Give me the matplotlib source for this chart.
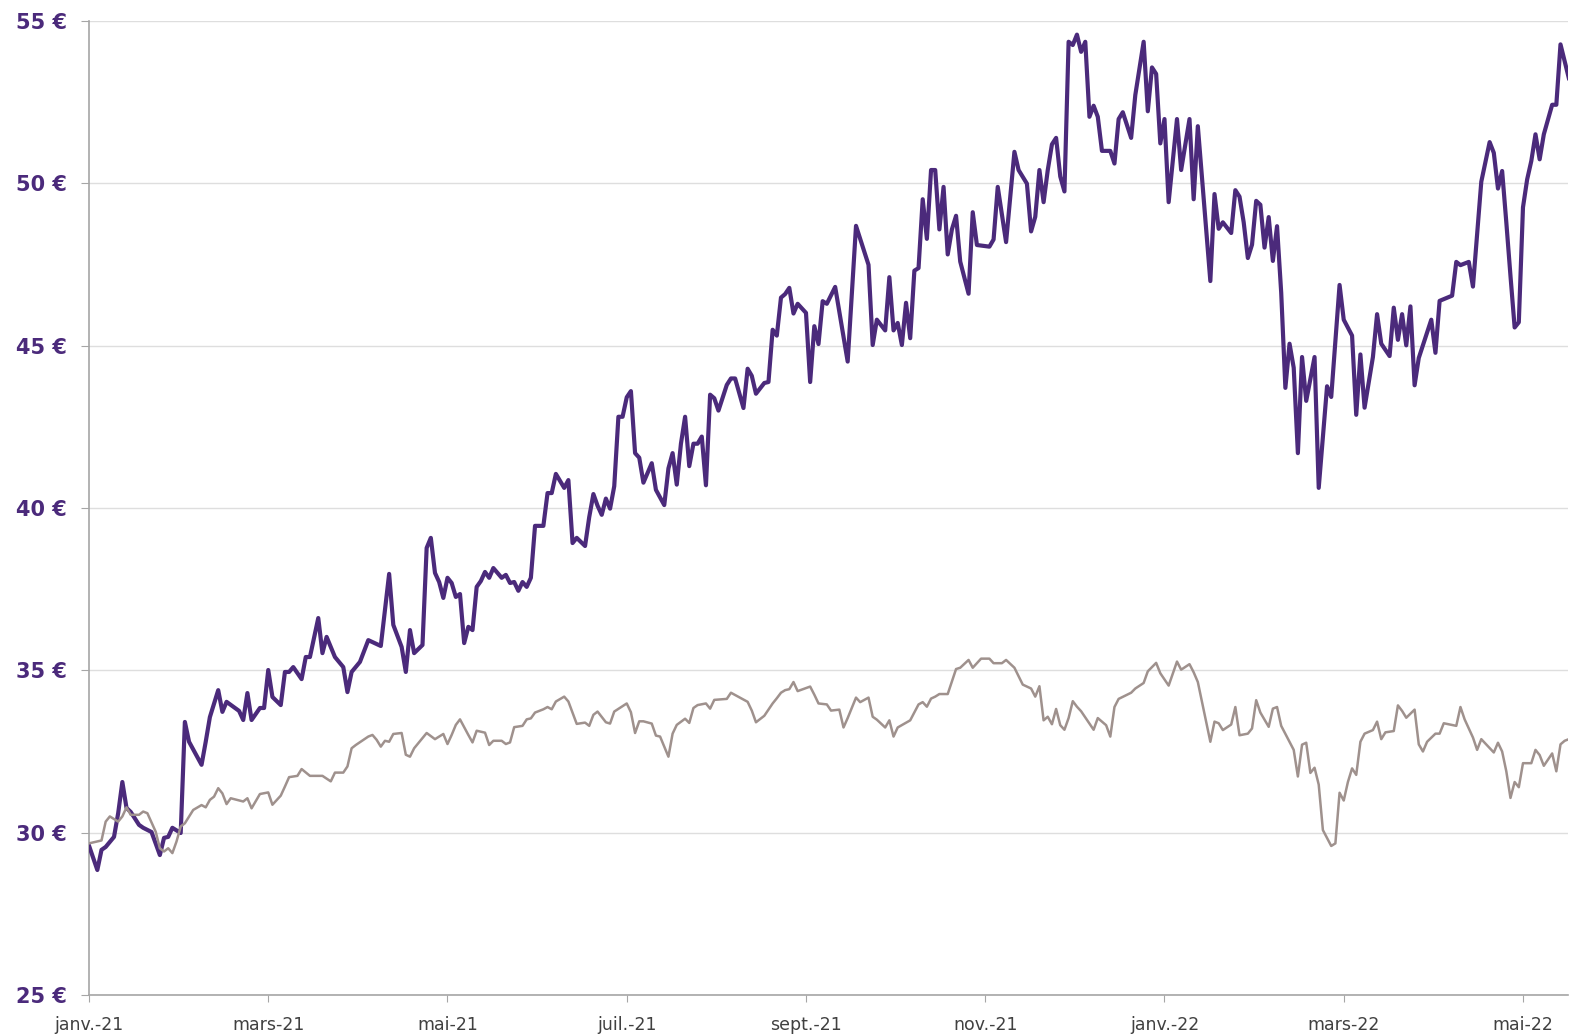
import matplotlib.pyplot as plt
import numpy as np

# abscisse : numero de seance depuis le 1er janvier 2021
# cours du titre (violet)
seance_titre = [
    0, 2, 3, 4, 6, 7, 8, 9, 10, 12,
    13, 15, 17, 18, 19, 20, 22, 23, 24, 27,
    28, 29, 31, 32, 33, 36, 37, 38, 39, 41,
    42, 43, 44, 46, 47, 48, 49, 51, 52, 53,
    55, 56, 57, 59, 61, 62, 63, 65, 67, 70,
    72, 73, 75, 76, 77, 78, 80, 81, 82, 83,
    84, 85, 86, 87, 88, 89, 90, 91, 92, 93,
    94, 95, 96, 97, 99, 100, 101, 102, 103, 104,
    105, 106, 107, 109, 110, 111, 112, 114, 115, 116,
    117, 119, 120, 121, 122, 123, 124, 125, 126, 127,
    128, 129, 130, 131, 132, 133, 135, 136, 138, 139,
    140, 141, 142, 143, 144, 145, 146, 147, 148, 149,
    150, 151, 153, 154, 155, 157, 158, 159, 160, 162,
    163, 164, 165, 166, 167, 168, 169, 170, 172, 173,
    174, 175, 176, 177, 179, 182, 184, 187, 188, 189,
    191, 192, 193, 194, 195, 196, 197, 198, 199, 200,
    201, 202, 203, 204, 205, 206, 207, 208, 209, 211,
    212, 213, 216, 217, 218, 220, 222, 223, 225, 226,
    227, 228, 229, 230, 231, 232, 233, 234, 235, 236,
    237, 238, 239, 240, 241, 242, 243, 245, 246, 247,
    248, 250, 251, 253, 254, 255, 256, 257, 258, 259,
    261, 262, 264, 265, 266, 267, 269, 270, 271, 272,
    274, 275, 276, 277, 278, 279, 280, 281, 282, 283,
    284, 285, 286, 287, 288, 289, 290, 291, 292, 294,
    295, 297, 298, 300, 301, 303, 304, 305, 306, 308,
    309, 310, 312, 313, 314, 315, 316, 317, 318, 319,
    322, 323, 324, 327, 328, 329, 331, 332, 334, 336,
    337, 338, 339, 340, 341, 342, 343, 344, 345, 346,
    347, 348, 349, 351, 352, 353, 355,
]
cours_titre = [
    29.6, 28.85, 29.47, 29.56, 29.87, 30.6, 31.56, 30.76, 30.64, 30.24,
    30.15, 30.02, 29.31, 29.84, 29.87, 30.15, 29.99, 33.41, 32.8, 32.09,
    32.8, 33.56, 34.39, 33.72, 34.03, 33.75, 33.47, 34.3, 33.47, 33.84,
    33.84, 35.01, 34.18, 33.93, 34.95, 34.95, 35.1, 34.73, 35.41, 35.41,
    36.61, 35.53, 36.03, 35.41, 35.1, 34.33, 34.95, 35.26, 35.93, 35.75,
    37.97, 36.4, 35.72, 34.95, 36.24, 35.53, 35.78, 38.77, 39.08, 38.0,
    37.72, 37.23, 37.85, 37.69, 37.26, 37.35, 35.84, 36.34, 36.24, 37.57,
    37.75, 38.03, 37.85, 38.15, 37.85, 37.94, 37.69, 37.72, 37.45, 37.72,
    37.57, 37.85, 39.45, 39.45, 40.46, 40.46, 41.05, 40.62, 40.86, 38.92,
    39.08, 38.83, 39.72, 40.43, 40.07, 39.79, 40.29, 39.98, 40.67, 42.81,
    42.81, 43.41, 43.6, 41.69, 41.55, 40.78, 41.38, 40.56, 40.09, 41.22,
    41.69, 40.72, 41.98, 42.81, 41.29, 41.98, 41.98, 42.2, 40.7, 43.49,
    43.38, 43.0, 43.79, 43.99, 43.99, 43.08, 44.29, 44.07, 43.52, 43.85,
    43.88, 45.49, 45.31, 46.48, 46.59, 46.78, 45.99, 46.29, 46.01, 43.88,
    45.6, 45.05, 46.37, 46.29, 46.81, 44.51, 48.69, 47.49, 45.02, 45.8,
    45.47, 47.11, 45.47, 45.7, 45.02, 46.32, 45.23, 47.31, 47.39, 49.51,
    48.29, 50.41, 50.41, 48.58, 49.89, 47.81, 48.58, 49.0, 47.59, 46.6,
    49.11, 48.1, 48.05, 48.27, 49.89, 48.19, 50.97, 50.41, 49.99, 48.52,
    48.97, 50.41, 49.42, 50.41, 51.2, 51.4, 50.21, 49.75, 54.36, 54.26,
    54.58, 54.05, 54.36, 52.05, 52.39, 52.05, 51.0, 51.0, 50.61, 51.98,
    52.19, 51.4, 52.72, 54.36, 52.22, 53.57, 53.37, 51.23, 51.98, 49.42,
    51.98, 50.41, 51.98, 49.51, 51.76, 50.16, 46.99, 49.67, 48.6, 48.8,
    48.47, 49.79, 49.59, 48.8, 47.7, 48.11, 49.46, 49.34, 48.02, 48.96,
    47.61, 48.68, 46.63, 43.7, 45.06, 44.32, 41.69, 44.65, 43.3, 44.65,
    40.62, 43.75, 43.42, 46.87, 45.8, 45.31, 42.87, 44.73, 43.09, 44.65,
    45.97, 45.06, 44.68, 46.17, 45.18, 45.97, 45.01, 46.21, 43.78, 44.62,
    45.8, 44.78, 46.38, 46.54, 47.58, 47.48, 47.58, 46.82, 50.05, 51.27,
    50.94, 49.84, 50.38, 48.8, 47.15, 45.56, 45.72, 49.26, 50.12, 50.69,
    51.51, 50.74, 51.51, 52.42, 52.42, 54.28, 53.24,
]

# indice de reference ramene en euros (gris)
seance_indice = [
    0, 3, 4, 5, 7, 8, 9, 10, 12, 13,
    14, 16, 17, 18, 19, 20, 21, 22, 23, 25,
    27, 28, 29, 30, 31, 32, 33, 34, 37, 38,
    39, 41, 43, 44, 46, 47, 48, 50, 51, 53,
    56, 58, 59, 61, 62, 63, 64, 67, 68, 69,
    70, 71, 72, 73, 75, 76, 77, 78, 80, 81,
    83, 85, 86, 87, 88, 89, 91, 92, 93, 94,
    95, 96, 97, 99, 100, 101, 102, 104, 105, 106,
    107, 109, 110, 111, 112, 114, 115, 117, 119, 120,
    121, 122, 124, 125, 126, 129, 130, 131, 132, 133,
    135, 136, 137, 139, 140, 141, 143, 144, 145, 146,
    148, 149, 150, 153, 154, 158, 159, 160, 162, 164,
    165, 166, 167, 168, 169, 170, 173, 174, 175, 177,
    178, 180, 181, 182, 184, 185, 187, 188, 189, 191,
    192, 193, 194, 197, 199, 200, 201, 202, 203, 204,
    206, 208, 209, 211, 212, 214, 216, 217, 219, 220,
    222, 224, 226, 227, 228, 229, 230, 231, 232, 233,
    234, 235, 236, 237, 238, 241, 242, 244, 245, 246,
    247, 250, 251, 253, 254, 256, 257, 259, 261, 262,
    264, 265, 266, 269, 270, 271, 272, 274, 275, 276,
    278, 279, 280, 281, 283, 284, 285, 286, 288, 289,
    290, 291, 292, 293, 294, 295, 296, 298, 299, 300,
    301, 302, 303, 304, 305, 306, 308, 309, 310, 311,
    313, 314, 315, 316, 318, 319, 320, 321, 323, 324,
    325, 328, 329, 330, 332, 333, 334, 337, 338, 339,
    340, 341, 342, 343, 344, 346, 347, 348, 349, 351,
    352, 353, 354, 355,
]
cours_indice = [
    29.67, 29.76, 30.34, 30.5, 30.34, 30.5, 30.78, 30.55, 30.55, 30.65,
    30.6, 30.03, 29.52, 29.42, 29.52, 29.37, 29.73, 30.19, 30.29, 30.7,
    30.85, 30.78, 31.01, 31.11, 31.37, 31.21, 30.88, 31.06, 30.96, 31.06,
    30.75, 31.19, 31.24, 30.86, 31.14, 31.42, 31.71, 31.75, 31.96, 31.75,
    31.75, 31.58, 31.85, 31.85, 32.04, 32.6, 32.7, 32.96, 33.01, 32.86,
    32.65, 32.83, 32.8, 33.04, 33.07, 32.4, 32.34, 32.6, 32.91, 33.07,
    32.88, 33.04, 32.73, 33.01, 33.32, 33.49, 33.01, 32.78, 33.14, 33.11,
    33.08, 32.7, 32.83, 32.83, 32.73, 32.78, 33.25, 33.29, 33.49, 33.52,
    33.7, 33.8, 33.87, 33.8, 34.04, 34.19, 34.04, 33.35, 33.39, 33.29,
    33.63, 33.73, 33.4, 33.36, 33.73, 33.98, 33.71, 33.07, 33.43, 33.43,
    33.36, 32.99, 32.96, 32.34, 33.05, 33.32, 33.51, 33.38, 33.84, 33.93,
    33.98, 33.82, 34.09, 34.12, 34.31, 34.03, 33.76, 33.4, 33.6, 33.98,
    34.14, 34.31, 34.39, 34.42, 34.64, 34.36, 34.5, 34.25, 33.98, 33.95,
    33.76, 33.79, 33.24, 33.53, 34.16, 34.02, 34.16, 33.57, 33.48, 33.24,
    33.46, 32.96, 33.24, 33.46, 33.95, 34.02, 33.88, 34.13, 34.19, 34.27,
    34.27, 35.04, 35.08, 35.32, 35.08, 35.36, 35.36, 35.22, 35.22, 35.32,
    35.08, 34.56, 34.44, 34.19, 34.51, 33.46, 33.57, 33.34, 33.81, 33.31,
    33.17, 33.53, 34.05, 33.88, 33.74, 33.17, 33.53, 33.31, 32.96, 33.87,
    34.12, 34.31, 34.44, 34.61, 34.97, 35.23, 34.91, 34.53, 35.27, 35.02,
    35.19, 34.94, 34.64, 32.8, 33.42, 33.37, 33.16, 33.33, 33.87, 33.0,
    33.05, 33.21, 34.08, 33.7, 33.26, 33.82, 33.87, 33.29, 32.8, 32.55,
    31.73, 32.71, 32.77, 31.84, 32.0, 31.48, 30.08, 29.59, 29.67, 31.23,
    30.99, 31.56, 31.98, 31.78, 32.8, 33.05, 33.16, 33.42, 32.88, 33.09,
    33.13, 33.92, 33.75, 33.54, 33.79, 32.72, 32.5, 32.8, 33.05, 33.05,
    33.37, 33.29, 33.87, 33.49, 32.93, 32.55, 32.88, 32.47, 32.77, 32.5,
    31.89, 31.07, 31.56, 31.4, 32.14, 32.14, 32.55, 32.39, 32.06, 32.44,
    31.89, 32.72, 32.83, 32.88,
]

etiquettes_mois = ["janv.-21", "mars-21", "mai-21", "juil.-21", "sept.-21",
                   "nov.-21", "janv.-22", "mars-22", "mai-22"]
pas_etiquettes = 43  # seances entre deux etiquettes
niveaux = [25, 30, 35, 40, 45, 50, 55]

violet = "#4b2a7b"
gris = "#9f918d"
gris_axe = "#a6a6a6"

fig = plt.figure(figsize=(15.73, 10.35), dpi=100)
ax = fig.add_axes([89 / 1573, 40 / 1035, 1479 / 1573, 974 / 1035])

ax.plot(seance_titre, cours_titre, color=violet, lw=3, solid_joinstyle="round", zorder=3)
ax.plot(seance_indice, cours_indice, color=gris, lw=1.8, solid_joinstyle="round", zorder=4)

ax.set_xlim(0, 354.8)
ax.set_ylim(25, 55)

ax.set_yticks(niveaux)
ax.set_yticklabels([f"{n} €" for n in niveaux], color=violet, fontweight="bold", fontsize=15)
ax.set_xticks(np.arange(len(etiquettes_mois)) * pas_etiquettes)
ax.set_xticklabels(etiquettes_mois, fontsize=12.5, color="#404040")

ax.grid(axis="y", color="#dedede", lw=1)
ax.set_axisbelow(True)
for s in ["top", "right"]:
    ax.spines[s].set_visible(False)
for s in ["left", "bottom"]:
    ax.spines[s].set_color(gris_axe)
    ax.spines[s].set_linewidth(1.2)
ax.tick_params(axis="y", length=6, color=gris_axe, pad=10)
ax.tick_params(axis="x", length=5, color=gris_axe, pad=10)

fig.savefig("out.png", dpi=100)
